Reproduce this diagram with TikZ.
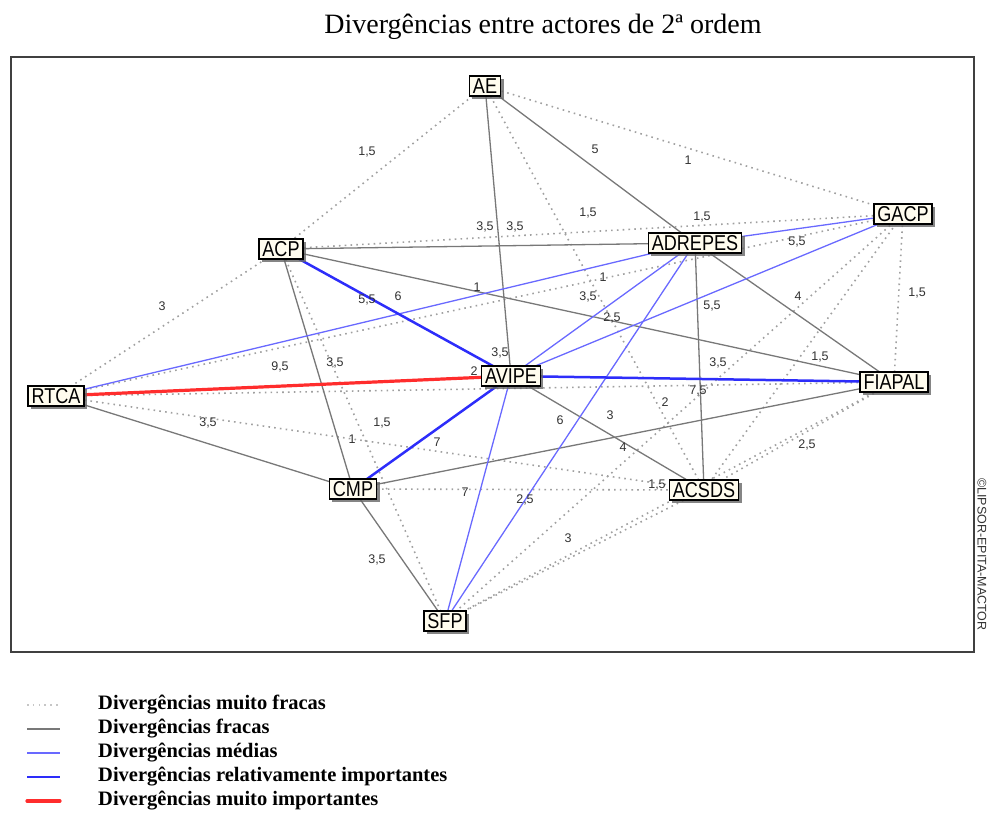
\documentclass[tikz,border=0pt]{standalone}
\usepackage{fontspec}
\setmainfont{Liberation Serif}
\newfontfamily\nodefont[FakeStretch=0.84]{Liberation Sans}
\newfontfamily\labfont{Liberation Sans}
\usetikzlibrary{shadows}
\definecolor{dotc}{RGB}{160,160,160}
\definecolor{weakc}{RGB}{120,120,120}
\definecolor{medc}{RGB}{105,105,255}
\definecolor{strongc}{RGB}{45,45,250}
\definecolor{redc}{RGB}{255,45,45}
\definecolor{boxfill}{RGB}{255,252,238}
\definecolor{labc}{RGB}{50,50,50}
\tikzset{
 actor/.style={draw=black, line width=1.4pt, fill=boxfill,
   font=\nodefont\fontsize{21.5}{21.5}\selectfont, inner xsep=3.5pt, inner ysep=2.5pt,
   text height=15pt, text depth=0pt,
   drop shadow={shadow xshift=3pt, shadow yshift=-3pt, fill=black!60, opacity=0.8}},
 vweak/.style={draw=dotc, line width=1.6pt, dash pattern=on 1.6pt off 4.2pt},
 weak/.style={draw=weakc, line width=1.3pt},
 medium/.style={draw=medc, line width=1.3pt},
 strong/.style={draw=strongc, line width=2.5pt},
 vstrong/.style={draw=redc, line width=3.2pt},
 val/.style={font=\labfont\fontsize{12.5}{13}\selectfont, text=labc, inner sep=0pt},
 legtext/.style={font=\bfseries\fontsize{20.5}{22}\selectfont, anchor=west, inner sep=0pt},
}
\begin{document}
\begin{tikzpicture}[x=1pt,y=-1pt]
\useasboundingbox (0,0) rectangle (987,815);
% title
\node[font=\fontsize{28}{30}\selectfont, inner sep=0pt] (title) at (543,27) {Divergências entre actores de 2ª ordem};
% frame
\draw[line width=1.6pt, black!75] (11,57) rectangle (974,652);
% copyright
\node[rotate=-90, anchor=west, font=\labfont\fontsize{12.5}{13}\selectfont, text=black!80, inner sep=0pt] (copy) at (982,478) {©LIPSOR-EPITA-MACTOR};

% actor positions
\path (485,86) coordinate (cAE) (281,249) coordinate (cACP) (695,243) coordinate (cADREPES)
      (903,214) coordinate (cGACP) (56,396) coordinate (cRTCA) (511,376) coordinate (cAVIPE)
      (894,382) coordinate (cFIAPAL) (353,489) coordinate (cCMP) (704,490) coordinate (cACSDS)
      (445,621) coordinate (cSFP);

% very weak (dotted)
\draw[vweak] (cRTCA) -- (cACP);
\draw[vweak] (cRTCA) -- (cGACP);
\draw[vweak] (cRTCA) -- (cFIAPAL);
\draw[vweak] (cRTCA) -- (cACSDS);
\draw[vweak] (cACP) -- (cAE);
\draw[vweak] (cACP) -- (cSFP);
\draw[vweak] (cACP) -- (cGACP);
\draw[vweak] (cAE) -- (cGACP);
\draw[vweak] (cAE) -- (cACSDS);
\draw[vweak] (cGACP) -- (cFIAPAL);
\draw[vweak] (cGACP) -- (cSFP);
\draw[vweak] (cGACP) -- (cACSDS);
\draw[vweak] (cFIAPAL) -- (cSFP);
\draw[vweak] (cFIAPAL) -- (cACSDS);
\draw[vweak] (cCMP) -- (cACSDS);
\draw[vweak] (cACSDS) -- (cSFP);
% weak (gray)
\draw[weak] (cRTCA) -- (cCMP);
\draw[weak] (cACP) -- (cADREPES);
\draw[weak] (cACP) -- (cFIAPAL);
\draw[weak] (cACP) -- (cCMP);
\draw[weak] (cAE) -- (cADREPES);
\draw[weak] (cAE) -- (cAVIPE);
\draw[weak] (cADREPES) -- (cACSDS);
\draw[weak] (cADREPES) -- (cFIAPAL);
\draw[weak] (cAVIPE) -- (cACSDS);
\draw[weak] (cFIAPAL) -- (cCMP);
\draw[weak] (cCMP) -- (cSFP);
% medium (thin blue)
\draw[medium] (cRTCA) -- (cADREPES);
\draw[medium] (cADREPES) -- (cGACP);
\draw[medium] (cADREPES) -- (cAVIPE);
\draw[medium] (cADREPES) -- (cSFP);
\draw[medium] (cGACP) -- (cAVIPE);
\draw[medium] (cAVIPE) -- (cSFP);
% relatively important (thick blue)
\draw[strong] (cACP) -- (cAVIPE);
\draw[strong] (cAVIPE) -- (cFIAPAL);
\draw[strong] (cAVIPE) -- (cCMP);
% very important (red)
\draw[vstrong] (cRTCA) -- (cAVIPE);

% values
\node[val] (v1) at (367,152) {1,5};
\node[val] (v2) at (595,149) {5};
\node[val] (v3) at (688,160) {1};
\node[val] (v4) at (588,213) {1,5};
\node[val] (v5) at (702,217) {1,5};
\node[val] (v6) at (485,227) {3,5};
\node[val] (v7) at (515,227) {3,5};
\node[val] (v8) at (797,242) {5,5};
\node[val] (v9) at (162,306) {3};
\node[val] (v10) at (367,300) {5,5};
\node[val] (v11) at (398,296) {6};
\node[val] (v12) at (477,287) {1};
\node[val] (v13) at (603,277) {1};
\node[val] (v14) at (588,297) {3,5};
\node[val] (v15) at (612,318) {2,5};
\node[val] (v16) at (712,306) {5,5};
\node[val] (v17) at (798,296) {4};
\node[val] (v18) at (917,293) {1,5};
\node[val] (v19) at (280,367) {9,5};
\node[val] (v20) at (335,363) {3,5};
\node[val] (v21) at (500,353) {3,5};
\node[val] (v22) at (474,371) {2};
\node[val] (v23) at (820,357) {1,5};
\node[val] (v24) at (718,363) {3,5};
\node[val] (v25) at (698,391) {7,5};
\node[val] (v26) at (665,402) {2};
\node[val] (v27) at (610,415) {3};
\node[val] (v28) at (560,420) {6};
\node[val] (v29) at (623,447) {4};
\node[val] (v30) at (208,423) {3,5};
\node[val] (v31) at (382,423) {1,5};
\node[val] (v32) at (352,439) {1};
\node[val] (v33) at (437,442) {7};
\node[val] (v34) at (807,445) {2,5};
\node[val] (v35) at (465,492) {7};
\node[val] (v36) at (525,500) {2,5};
\node[val] (v37) at (657,485) {1,5};
\node[val] (v38) at (568,538) {3};
\node[val] (v39) at (377,560) {3,5};

% actors
\node[actor] (AE) at (cAE) {AE};
\node[actor] (ACP) at (cACP) {ACP};
\node[actor] (ADREPES) at (cADREPES) {ADREPES};
\node[actor] (GACP) at (cGACP) {GACP};
\node[actor] (RTCA) at (cRTCA) {RTCA};
\node[actor] (AVIPE) at (cAVIPE) {AVIPE};
\node[actor] (FIAPAL) at (cFIAPAL) {FIAPAL};
\node[actor] (CMP) at (cCMP) {CMP};
\node[actor] (ACSDS) at (cACSDS) {ACSDS};
\node[actor] (SFP) at (cSFP) {SFP};

% legend
\coordinate (la1) at (27,705); \coordinate (lb1) at (60,705);
\coordinate (la2) at (27,729); \coordinate (lb2) at (60,729);
\coordinate (la3) at (27,753); \coordinate (lb3) at (60,753);
\coordinate (la4) at (27,777); \coordinate (lb4) at (60,777);
\coordinate (la5) at (27,801); \coordinate (lb5) at (60,801);
\draw[vweak, draw=dotc!60] (la1) -- (lb1);
\draw[weak] (la2) -- (lb2);
\draw[medium] (la3) -- (lb3);
\draw[strong] (la4) -- (lb4);
\draw[vstrong, line cap=round] (la5) -- (lb5);
\node[legtext] (t1) at (98,705) {Divergências muito fracas};
\node[legtext] (t2) at (98,729) {Divergências fracas};
\node[legtext] (t3) at (98,753) {Divergências médias};
\node[legtext] (t4) at (98,777) {Divergências relativamente importantes};
\node[legtext] (t5) at (98,801) {Divergências muito importantes};
\end{tikzpicture}
\end{document}
